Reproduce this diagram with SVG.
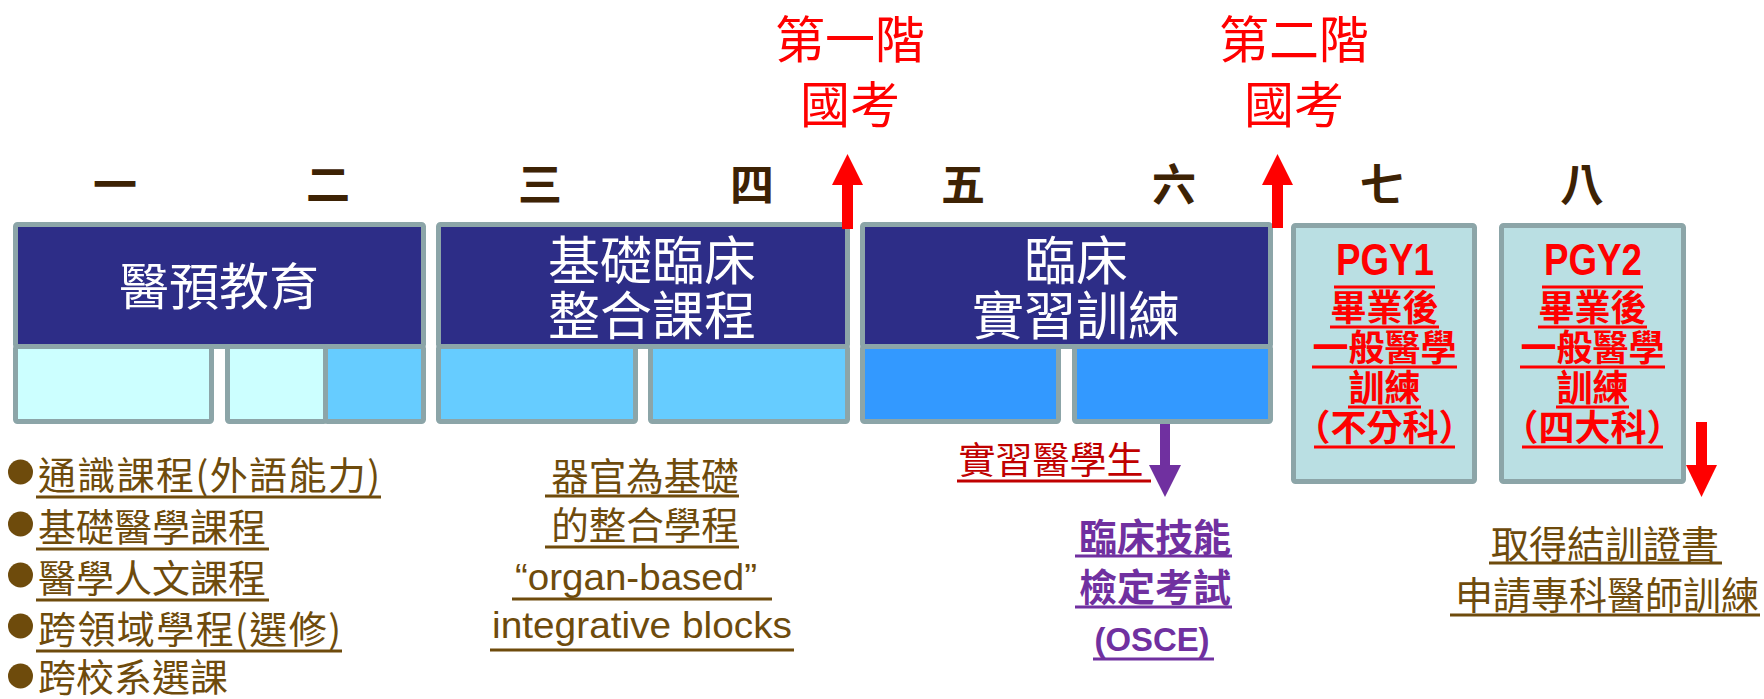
<svg xmlns="http://www.w3.org/2000/svg" width="1764" height="699" viewBox="0 0 1764 699">
<style>
.cjk{font-family:"Noto Sans CJK TC","Noto Sans CJK SC",sans-serif}
.lat{font-family:"Liberation Sans","Noto Sans",sans-serif}
.box{stroke:#8CA5A8;stroke-width:5}
.dark{fill:#2D2D87}
.c1{fill:#CCFFFF}
.c2{fill:#66CCFF}
.c3{fill:#3399FF}
.pgy{fill:#BADFE3}
.yr{font-size:44px;font-weight:700;fill:#3D2204;text-anchor:middle}
.title{font-size:50px;fill:#FFFFFF;text-anchor:middle}
.title2{font-size:52px;fill:#FFFFFF;text-anchor:middle}
.exam{font-size:50px;fill:#FF0000;text-anchor:middle}
.pg{font-size:36px;font-weight:700;fill:#FF0000;text-anchor:middle}
.pgh{font-size:45px;font-weight:700;fill:#FF0000;text-anchor:middle}
.br{fill:#6E4B0C}
.brs{font-size:38px;fill:#6E4B0C}
.mid{font-size:37.5px;fill:#6E4B0C;text-anchor:middle}
.en{font-size:36px;fill:#6E4B0C;text-anchor:middle}
.pur{font-size:38px;fill:#7030A0;text-anchor:middle}
.ulb{stroke:#6E4B0C;stroke-width:3}
.ulr{stroke:#FF0000;stroke-width:3}
.uld{stroke:#C00000;stroke-width:3}
.ulp{stroke:#7030A0;stroke-width:3}
</style>

<g id="years" class="cjk">
<text class="yr" x="115" y="201">一</text>
<text class="yr" x="328" y="201">二</text>
<text class="yr" x="540" y="201">三</text>
<text class="yr" x="752" y="201">四</text>
<text class="yr" x="963" y="201">五</text>
<text class="yr" x="1174" y="201">六</text>
<text class="yr" x="1382" y="201">七</text>
<text class="yr" x="1582" y="201">八</text>
</g>

<g id="exam1" class="cjk">
<text class="exam" x="850" y="58">第一階</text>
<text class="exam" x="850" y="123">國考</text>
</g>
<g id="exam2" class="cjk">
<text class="exam" x="1294" y="58">第二階</text>
<text class="exam" x="1294" y="123">國考</text>
</g>

<g id="block1">
<rect class="box dark" x="15.5" y="224.5" width="408" height="122" rx="2"/>
<rect class="box c1" x="15.5" y="346.5" width="196" height="75" rx="2"/>
<rect class="box c1" x="227.5" y="346.5" width="98" height="75" rx="2"/>
<rect class="box c2" x="325.5" y="346.5" width="98" height="75" rx="2"/>
<text class="cjk title" x="219" y="305">醫預教育</text>
</g>

<g id="block2">
<rect class="box dark" x="438.5" y="224.5" width="409" height="122" rx="2"/>
<rect class="box c2" x="438.5" y="346.5" width="197" height="75" rx="2"/>
<rect class="box c2" x="650.5" y="346.5" width="197" height="75" rx="2"/>
<text class="cjk title2" x="652" y="280">基礎臨床</text>
<text class="cjk title2" x="652" y="335">整合課程</text>
</g>

<g id="block3">
<rect class="box dark" x="862.5" y="224.5" width="408" height="122" rx="2"/>
<rect class="box c3" x="862.5" y="346.5" width="196" height="75" rx="2"/>
<rect class="box c3" x="1074.5" y="346.5" width="196" height="75" rx="2"/>
<text class="cjk title2" x="1076" y="280">臨床</text>
<text class="cjk title2" x="1076" y="335">實習訓練</text>
</g>

<g id="pgy1">
<rect class="box pgy" x="1293.5" y="225.5" width="181" height="256" rx="2"/>
<text class="lat pgh" x="1385" y="275" textLength="98" lengthAdjust="spacingAndGlyphs">PGY1</text>
<text class="cjk pg" x="1384.5" y="321">畢業後</text>
<text class="cjk pg" x="1384.5" y="361">一般醫學</text>
<text class="cjk pg" x="1384.5" y="401">訓練</text>
<text class="cjk pg" x="1384.5" y="441">（不分科）</text>
<line class="ulr" x1="1334" y1="287" x2="1435" y2="287"/>
<line class="ulr" x1="1330" y1="327" x2="1439" y2="327"/>
<line class="ulr" x1="1312" y1="367" x2="1457" y2="367"/>
<line class="ulr" x1="1348" y1="407" x2="1421" y2="407"/>
<line class="ulr" x1="1314" y1="447" x2="1455" y2="447"/>
</g>

<g id="pgy2">
<rect class="box pgy" x="1501.5" y="225.5" width="182" height="256" rx="2"/>
<text class="lat pgh" x="1593" y="275" textLength="98" lengthAdjust="spacingAndGlyphs">PGY2</text>
<text class="cjk pg" x="1592.5" y="321">畢業後</text>
<text class="cjk pg" x="1592.5" y="361">一般醫學</text>
<text class="cjk pg" x="1592.5" y="401">訓練</text>
<text class="cjk pg" x="1592.5" y="441">（四大科）</text>
<line class="ulr" x1="1542" y1="287" x2="1643" y2="287"/>
<line class="ulr" x1="1538" y1="327" x2="1647" y2="327"/>
<line class="ulr" x1="1520" y1="367" x2="1665" y2="367"/>
<line class="ulr" x1="1556" y1="407" x2="1629" y2="407"/>
<line class="ulr" x1="1522" y1="447" x2="1663" y2="447"/>
</g>

<g id="bullets" class="cjk">
<circle class="br" cx="20.5" cy="472" r="12.5"/>
<circle class="br" cx="20.5" cy="524" r="12.5"/>
<circle class="br" cx="20.5" cy="575" r="12.5"/>
<circle class="br" cx="20.5" cy="626" r="12.5"/>
<circle class="br" cx="20.5" cy="676" r="12.5"/>
<text class="brs" x="38" y="489" textLength="342" lengthAdjust="spacing">通識課程(外語能力)</text>
<text class="brs" x="38" y="541">基礎醫學課程</text>
<text class="brs" x="38" y="592">醫學人文課程</text>
<text class="brs" x="38" y="643" textLength="303" lengthAdjust="spacing">跨領域學程(選修)</text>
<text class="brs" x="38" y="691">跨校系選課</text>
<line class="ulb" x1="36" y1="497" x2="381" y2="497"/>
<line class="ulb" x1="36" y1="549" x2="269" y2="549"/>
<line class="ulb" x1="36" y1="600" x2="269" y2="600"/>
<line class="ulb" x1="36" y1="651" x2="342" y2="651"/>
</g>

<g id="organ">
<text class="cjk mid" x="645" y="490">器官為基礎</text>
<text class="cjk mid" x="645" y="539">的整合學程</text>
<text class="lat en" x="636" y="590" textLength="242" lengthAdjust="spacingAndGlyphs">“organ-based”</text>
<text class="lat en" x="642" y="638" textLength="300" lengthAdjust="spacingAndGlyphs">integrative blocks</text>
<line class="ulb" x1="545" y1="496" x2="739" y2="496"/>
<line class="ulb" x1="545" y1="547" x2="739" y2="547"/>
<line class="ulb" x1="512" y1="599" x2="772" y2="599"/>
<line class="ulb" x1="490" y1="650" x2="794" y2="650"/>
</g>

<g id="intern">
<text class="cjk" x="1051" y="474" font-size="37" fill="#C00000" text-anchor="middle">實習醫學生</text>
<line class="uld" x1="957" y1="481" x2="1151" y2="481"/>
</g>

<g id="osce">
<text class="cjk pur" x="1155" y="551" font-weight="700">臨床技能</text>
<text class="cjk pur" x="1155" y="601" font-weight="700">檢定考試</text>
<text class="lat" x="1152" y="651" font-size="34" font-weight="700" fill="#7030A0" text-anchor="middle" textLength="115" lengthAdjust="spacingAndGlyphs">(OSCE)</text>
<line class="ulp" x1="1075" y1="556" x2="1232" y2="556"/>
<line class="ulp" x1="1075" y1="607" x2="1232" y2="607"/>
<line class="ulp" x1="1093" y1="659" x2="1214" y2="659"/>
</g>

<g id="specialty" class="cjk">
<text class="brs" x="1605" y="558" text-anchor="middle">取得結訓證書</text>
<text class="brs" x="1607" y="609" text-anchor="middle">申請專科醫師訓練</text>
<line class="ulb" x1="1489" y1="563" x2="1722" y2="563"/>
<line class="ulb" x1="1450" y1="615" x2="1760" y2="615"/>
</g>

<g id="connectors">
<rect x="842" y="184" width="11" height="45" fill="#FF0000"/>
<polygon points="832,185 847.5,154 863,185" fill="#FF0000"/>
<rect x="1272" y="184" width="11" height="44" fill="#FF0000"/>
<polygon points="1262,185 1277.5,154 1293,185" fill="#FF0000"/>
<rect x="1696" y="422" width="11" height="44" fill="#FF0000"/>
<polygon points="1686,465 1701.5,497 1717,465" fill="#FF0000"/>
<rect x="1160" y="424" width="10" height="42" fill="#7030A0"/>
<polygon points="1149,465 1165,497 1181,465" fill="#7030A0"/>
</g>
</svg>
